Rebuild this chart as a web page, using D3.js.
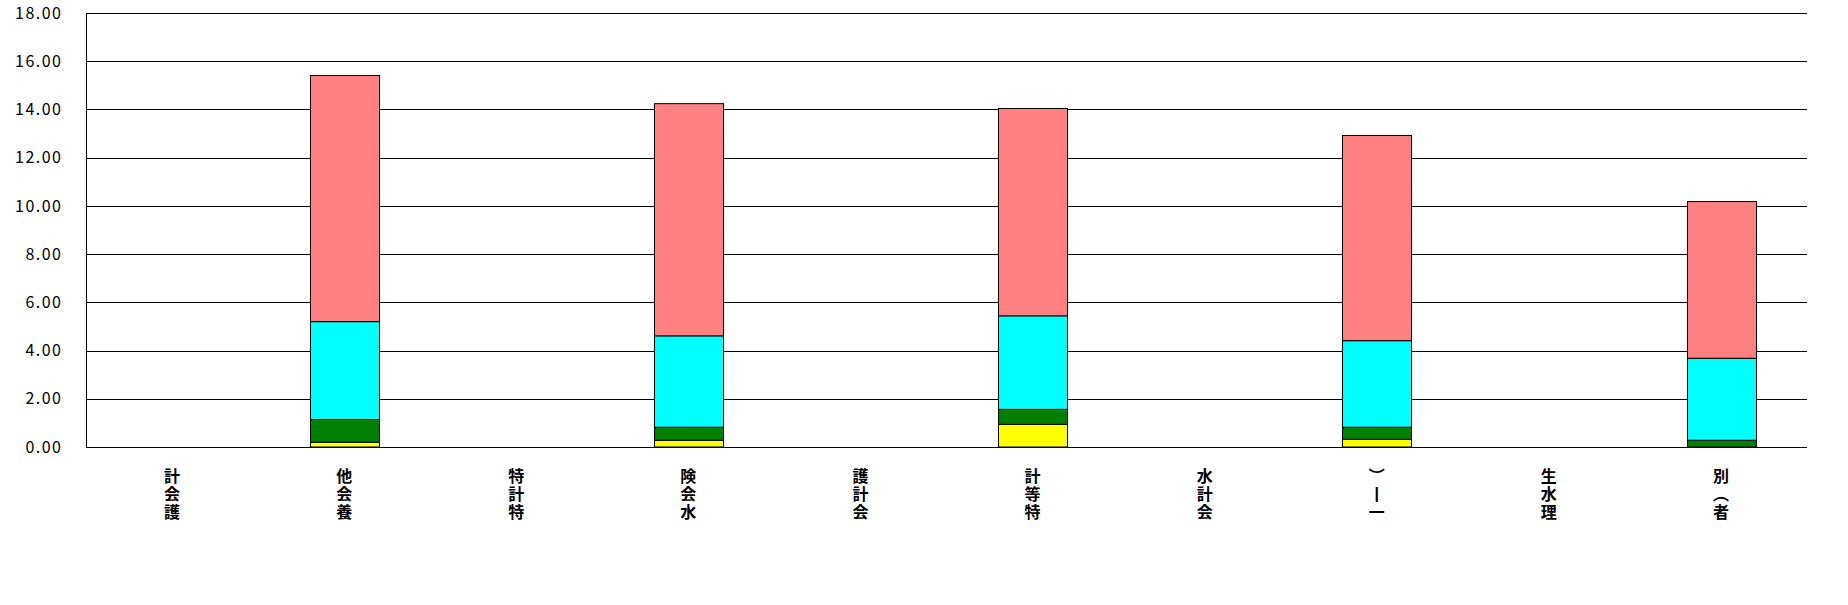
<!DOCTYPE html>
<html><head><meta charset="utf-8">
<script src="https://cdn.jsdelivr.net/npm/d3@7"></script>
<style>body{margin:0;background:#fff}svg{display:block}</style>
</head><body>
<svg id="c" width="1848" height="605"></svg>
<script>
const categories = ["計会護","他会養","特計特","険会水","護計会","計等特","水計会","︶丨一","生水理","別︵者"];
const yellow = [0, 0.20, 0, 0.28, 0, 0.94, 0, 0.32, 0, 0];
const green  = [0, 0.94, 0, 0.54, 0, 0.62, 0, 0.50, 0, 0.28];
const cyan   = [0, 4.06, 0, 3.79, 0, 3.88, 0, 3.59, 0, 3.40];
const pink   = [0, 10.21, 0, 9.63, 0, 8.60, 0, 8.51, 0, 6.50];
const yTicks = [0,2,4,6,8,10,12,14,16,18];
const seriesColors = ["#FFFF00","#008000","#00FFFF","#FF8080"];

const svg = d3.select("#c");
const L=86, R=1807, T=13, B=447;
const x = d3.scaleBand().domain(d3.range(categories.length)).range([L,R]).paddingInner(0.6).paddingOuter(0.3);
const y = d3.scaleLinear().domain([0,18]).range([B,T]);

// gridlines
svg.append("g").selectAll("line").data(yTicks).join("line")
  .attr("x1",L).attr("x2",R).attr("y1",d=>Math.round(y(d))+0.5).attr("y2",d=>Math.round(y(d))+0.5)
  .attr("stroke","#000").attr("stroke-width",1);

// y axis
const yAxis = d3.axisLeft(y).tickValues(yTicks).tickFormat(d3.format(".2f")).tickSize(0).tickPadding(24);
const ga = svg.append("g").attr("transform",`translate(${L+0.5},0)`).call(yAxis);
ga.select(".domain").attr("stroke","#000").attr("d",`M0,${T}V${B+0.5}`);
ga.selectAll("text").attr("font-family","'Noto Sans CJK JP', sans-serif").attr("font-size","16px").attr("fill","#000").attr("letter-spacing","1.5px");

// stacked bars
const data = categories.map((c,i)=>({i, yellow:yellow[i], green:green[i], cyan:cyan[i], pink:pink[i]}));
const stack = d3.stack().keys(["yellow","green","cyan","pink"])(data);
stack.forEach((s,k)=>{
  svg.append("g").selectAll("rect").data(s.filter(d=>d[1]-d[0]>0)).join("rect")
    .attr("x",d=>Math.round(x(d.data.i))+0.5)
    .attr("width",Math.round(x.bandwidth()))
    .attr("y",d=>y(d[1]))
    .attr("height",d=>y(d[0])-y(d[1]))
    .attr("fill",seriesColors[k]).attr("stroke","#000").attr("stroke-width",1);
});

// category labels (vertical stacked chars)
const lg = svg.append("g").attr("font-family","'Liberation Sans', 'Noto Sans CJK JP', sans-serif").attr("font-weight","bold").attr("font-size","16px").attr("fill","#000");
categories.forEach((c,i)=>{
  const cx = x(i)+x.bandwidth()/2;
  Array.from(c).forEach((ch,j)=>{
    lg.append("text").attr("x",cx).attr("y",482+j*18).attr("text-anchor","middle").text(ch);
  });
});
</script>
</body></html>
